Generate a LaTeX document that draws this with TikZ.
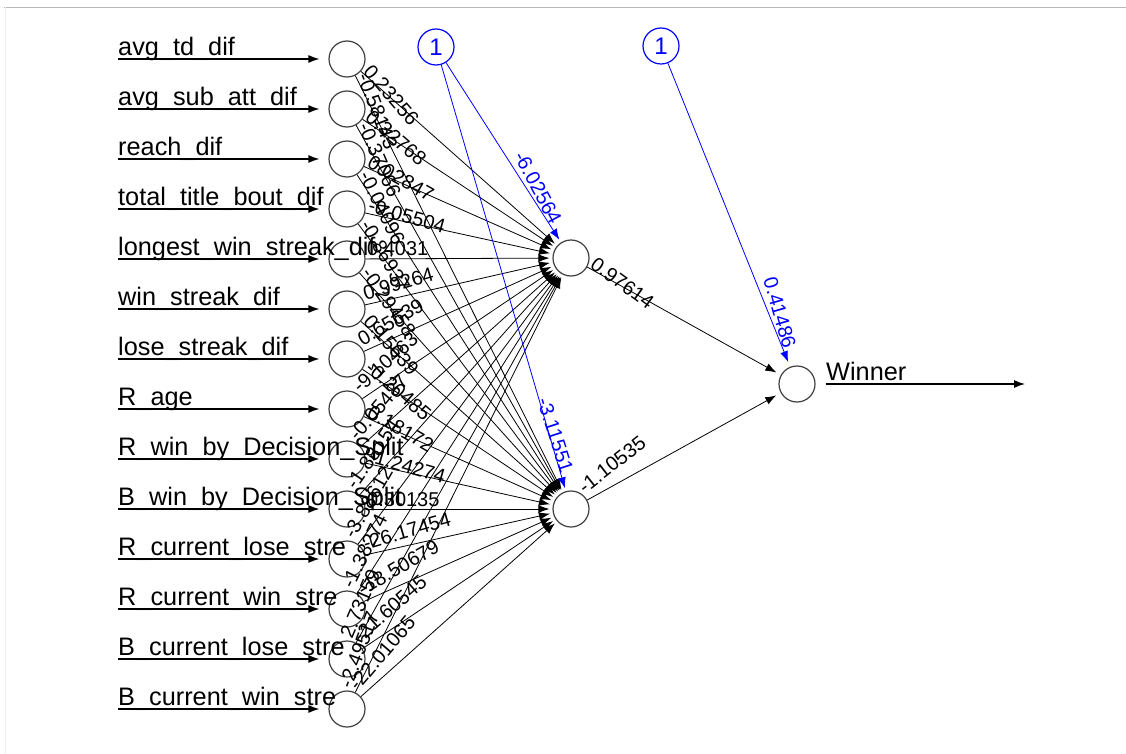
\documentclass[tikz,border=0pt]{standalone}
\usepackage{fontspec}
\setmainfont{Liberation Sans}
\usetikzlibrary{calc,arrows.meta}
\tikzset{
  neuron/.style={circle, draw=black!75, line width=1.2pt, minimum size=36pt, inner sep=0pt},
  biasnode/.style={neuron, draw=blue, text=blue, font=\fontsize{24}{24}\selectfont},
  wedge/.style={draw=black, line width=0.8pt, -{Latex[length=11pt,width=8pt]}, shorten >=3pt},
  bedge/.style={wedge, draw=blue},
  inarrow/.style={draw=black, line width=1.2pt, -{Latex[length=11pt,width=8pt]}},
  inlab/.style={font=\fontsize{25.3}{26}\selectfont, anchor=base west, inner sep=0pt},
  wlab/.style={font=\fontsize{20}{20}\selectfont, inner sep=0pt},
}
\newcommand\weightlabel[4]{\node[wlab, text=#4, rotate={-(#2)}, anchor=base west] at ($(#1)+({#2}:20)+({#2-90}:3)$) {#3};}
\begin{document}
\begin{tikzpicture}[x=1pt,y=-1pt]
\useasboundingbox (0,0) rectangle (1126,754);
\fill[white] (0,0) rectangle (1126,754);
\draw[gray!55, line width=1.5pt] (4,7.5) -- (1126,7.5);
\draw[gray!12, line width=1pt] (5.5,7.5) -- (5.5,754);

\node[neuron] (h1) at (571,258) {};
\node[neuron] (h2) at (571,509) {};
\node[neuron] (out) at (797,384) {};
\node[biasnode] (b1) at (436,47) {1};
\node[biasnode] (b2) at (661,46) {1};

\foreach \i/\lab/\wa/\wb in {
 1/avg\_td\_dif/0.23256/-0.58143,
 2/avg\_sub\_att\_dif/0.32768/-0.37066,
 3/reach\_dif/0.02847/-0.04096,
 4/total\_title\_bout\_dif/-0.05504/-0.86937,
 5/longest\_win\_streak\_dif/0.4031/-0.29458,
 6/win\_streak\_dif/0.99264/0.15639,
 7/lose\_streak\_dif/0.65639/-0.20485,
 8/R\_age/-9.10463/0.18172,
 9/R\_win\_by\_Decision\_Split/-0.05487/-1.24274,
 10/B\_win\_by\_Decision\_Split/-1.88154/0.30135,
 11/R\_current\_lose\_stre/-3.88612/-26.17454,
 12/R\_current\_win\_stre/-1.38274/-18.50679,
 13/B\_current\_lose\_stre/2.73159/-21.60545,
 14/B\_current\_win\_stre/-2.49517/-22.01065}
{
 \pgfmathsetmacro\yy{59+50*(\i-1)}
 \node[neuron] (in\i) at (347,\yy) {};
 \coordinate (src\i) at (118,\yy);
 \node[inlab] (lab\i) at (118,\yy-3.3) {\lab};
 \draw[inarrow, shorten >=9pt] (src\i) -- (in\i);
 \draw[wedge] (in\i) -- (h1);
 \draw[wedge] (in\i) -- (h2);
 \pgfmathsetmacro\aa{atan(1.3*(258-\yy)/224)}
 \pgfmathsetmacro\ab{atan(1.3*(509-\yy)/224)}
 \weightlabel{in\i}{\aa}{\wa}{black}
 \weightlabel{in\i}{\ab}{\wb}{black}
}

\draw[wedge, shorten >=5pt] (h1) -- (out);
\draw[wedge, shorten >=5pt] (h2) -- (out);
\weightlabel{h1}{36}{0.97614}{black}
\weightlabel{h2}{-38}{-1.10535}{black}

\draw[bedge] (b1) -- (h1);
\draw[bedge] (b1) -- (h2);
\draw[bedge, shorten >=5pt] (b2) -- (out);
\node[wlab, text=blue, rotate=-62, anchor=base east] (wb1) at ($(h1)!38pt!(b1)$) {-6.02564};
\node[wlab, text=blue, rotate=-72, anchor=base east] (wb2) at ($(h2)!36pt!(b1)$) {-3.11551};
\node[wlab, text=blue, rotate=-74, anchor=base east] (wb3) at ($(out)!37pt!(b2)$) {0.41486};

\coordinate (oend) at (1025,384);
\draw[inarrow, shorten <=10pt] (out) -- (oend);
\node[inlab] (winlab) at (826,380) {Winner};
\end{tikzpicture}
\end{document}
